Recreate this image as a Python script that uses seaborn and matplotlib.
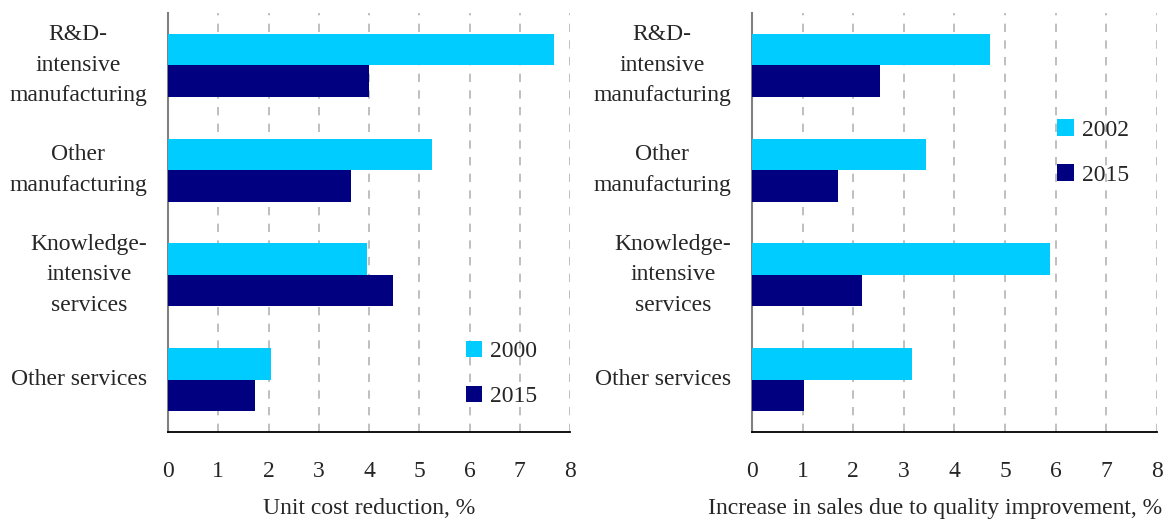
import matplotlib
matplotlib.use("Agg")
import matplotlib.pyplot as plt
import seaborn as sns
import pandas as pd

categories = ["R&D-\nintensive\nmanufacturing", "Other\nmanufacturing",
              "Knowledge-\nintensive\nservices", "Other services"]
left_years = ["2000", "2015"]
left_2000 = [7.68, 5.26, 3.96, 2.05]
left_2015 = [4.00, 3.64, 4.47, 1.74]
right_years = ["2002", "2015"]
right_2002 = [4.70, 3.44, 5.89, 3.16]
right_2015 = [2.53, 1.70, 2.18, 1.03]
xticks = [0, 1, 2, 3, 4, 5, 6, 7, 8]
left_xlabel = "Unit cost reduction, %"
right_xlabel = "Increase in sales due to quality improvement, %"

LIGHT = "#00CCFF"
DARK = "#000080"

sns.set_theme(style="white")
plt.rcParams["font.family"] = ["Liberation Serif", "DejaVu Serif"]
plt.rcParams["font.size"] = 17

fig = plt.figure(figsize=(11.7, 5.22), dpi=100)
ax1 = fig.add_axes([0.1436, 0.1724, 0.3436, 0.8027])
ax2 = fig.add_axes([0.6427, 0.1724, 0.3462, 0.8027])


def make_df(years, a, b):
    rows = []
    for c, v in zip(categories, a):
        rows.append({"cat": c, "year": years[0], "val": v})
    for c, v in zip(categories, b):
        rows.append({"cat": c, "year": years[1], "val": v})
    return pd.DataFrame(rows)


def draw(ax, years, a, b, xlabel, xlabel_x, leg_anchor):
    df = make_df(years, a, b)
    sns.barplot(data=df, y="cat", x="val", hue="year", orient="h",
                palette={years[0]: LIGHT, years[1]: DARK},
                width=0.6, dodge=True, saturation=1, ax=ax, zorder=3,
                linewidth=0, edgecolor="none")
    ax.set_xlim(0, 8)
    ax.set_ylim(3.5, -0.5)
    ax.set_xticks(xticks)
    ax.set_xticklabels([str(t) for t in xticks])
    ax.set_ylabel("")
    ax.set_xlabel(xlabel, fontsize=17)
    ax.xaxis.set_label_coords(xlabel_x, -0.158)
    ax.grid(axis="x", linestyle=(0, (5, 5)), color="#b4b4b4", lw=1.2, zorder=0)
    ax.grid(axis="y", visible=False)
    ax.set_axisbelow(True)
    for s in ["top", "right"]:
        ax.spines[s].set_visible(False)
    ax.spines["left"].set_color("#808080")
    ax.spines["left"].set_linewidth(1.5)
    ax.spines["bottom"].set_color("black")
    ax.spines["bottom"].set_linewidth(1.3)
    ax.tick_params(axis="x", direction="inout", length=9.4, width=1.0,
                   color="black", pad=16, labelsize=17)
    ax.tick_params(axis="y", length=0, pad=15, labelsize=17)
    for lab in ax.get_yticklabels():
        lab.set_multialignment("center")
        lab.set_linespacing(1.6)
        lab.set_verticalalignment("center")
    leg = ax.get_legend()
    if leg is not None:
        leg.remove()
    handles, labels = ax.get_legend_handles_labels()
    fig.legend(handles, labels, loc="center left", bbox_to_anchor=leg_anchor,
               bbox_transform=fig.transFigure, frameon=False,
               handlelength=0.7, handleheight=0.7, handletextpad=0.35,
               labelspacing=1.0, borderpad=0, borderaxespad=0, fontsize=17)


draw(ax1, left_years, left_2000, left_2015, left_xlabel, 0.5, (0.398, 0.2835))
draw(ax2, right_years, right_2002, right_2015, right_xlabel, 0.452, (0.9034, 0.708))

fig.savefig("out.png", dpi=100)
